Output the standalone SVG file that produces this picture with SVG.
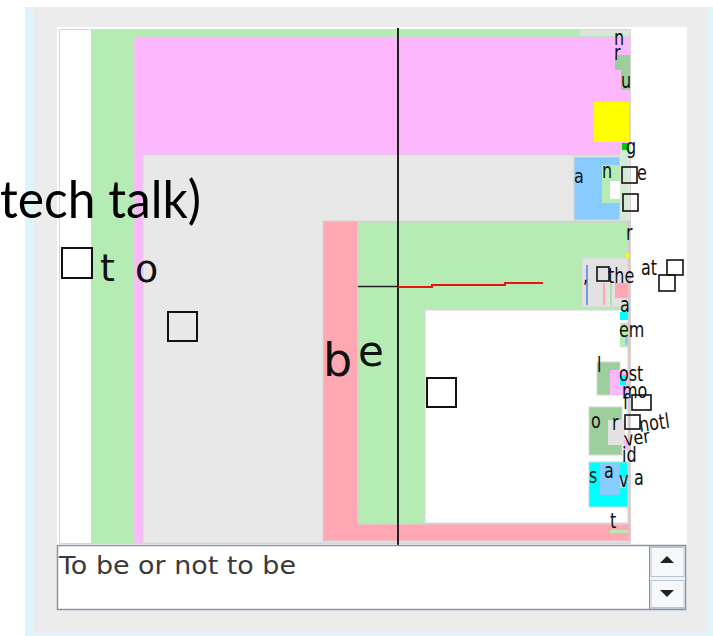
<svg xmlns="http://www.w3.org/2000/svg" width="713" height="636" viewBox="0 0 713 636">
<style>
.bx{stroke:#d6d6d6;stroke-width:1}
.g{fill:#b4ecb4}.pk{fill:#fdb8fd}.gr{fill:#e8e8e8}.rd{fill:#ffa8b4}.lb{fill:#88ccff}.dg{fill:#9ccf9c}.cy{fill:#00ffff}.yl{fill:#ffff00}.wh{fill:#ffffff}
.sq{fill:none;stroke:#111;stroke-width:2}
.sq1{fill:none;stroke:#111;stroke-width:1.6}
.big{font-family:"DejaVu Sans",sans-serif;fill:#111}
.sm{font-family:"DejaVu Sans",sans-serif;fill:#111;font-size:16px}
</style>
<rect x="0" y="0" width="713" height="636" fill="#ffffff"/>
<rect x="25" y="7" width="688" height="629" fill="#ddf5fb"/>
<rect x="34" y="7" width="674" height="626" fill="#ececec"/>
<rect x="57" y="27" width="630" height="518" fill="#ffffff"/>

<g id="root">
<rect x="59.5" y="29.5" width="571" height="514" fill="#ffffff" class="bx"/>
</g>
<g id="node-t">
<rect x="91" y="30" width="539" height="513" class="g"/>
<rect x="580" y="30" width="50" height="6" fill="#d9e6d9"/>
</g>
<g id="node-o">
<rect x="134" y="37" width="496" height="506" class="pk bx"/>
<rect x="615" y="55" width="15" height="15" class="dg"/>
<rect x="621" y="70" width="9" height="20" class="dg"/>
<rect x="594" y="102" width="35" height="40" class="yl"/>
<rect x="622" y="143" width="7" height="9" fill="#00cc00"/>
<rect x="626" y="152" width="3" height="4" class="cy"/>
</g>
<g id="node-space">
<rect x="143" y="155" width="487" height="388" class="gr bx"/>
</g>
<g id="node-a">
<rect x="574" y="157" width="46" height="63" class="lb bx"/>
<rect x="602" y="165" width="18" height="38" class="g"/>
<rect x="610" y="181" width="11" height="18" class="wh"/>
<rect x="620" y="150" width="8" height="72" fill="#d2ebd2"/>
</g>
<g id="node-b">
<rect x="323" y="221" width="307" height="320" class="rd bx"/>
<rect x="610" y="530" width="18" height="3" class="g"/>
</g>
<g id="node-e">
<rect x="358" y="222" width="270" height="302" class="g bx"/>
<rect x="626" y="254" width="3" height="4" class="yl"/>
<rect x="582" y="258" width="46" height="49" fill="#e2e2e2" class="bx"/>
<rect x="586" y="265" width="2" height="40" fill="#7799dd"/>
<rect x="603" y="283" width="2" height="22" fill="#ffaaaa"/>
<rect x="610" y="283" width="2" height="22" fill="#a8e6a8"/>
<rect x="615" y="283" width="13" height="15" class="rd"/>
</g>
<g id="node-space2">
<rect x="425" y="310" width="203" height="213" class="wh bx"/>
<rect x="620" y="312" width="8" height="8" class="cy"/>
<rect x="620" y="323" width="8" height="24" class="g"/>
<rect x="625" y="337" width="3" height="8" class="lb"/>
<rect x="597" y="362" width="23" height="33" class="dg bx"/>
<rect x="610" y="370" width="18" height="25" class="pk"/>
<rect x="620" y="375" width="6" height="10" class="cy"/>
<rect x="589" y="407" width="33" height="48" class="dg bx"/>
<rect x="608" y="420" width="17" height="25" fill="#e2e2e2"/>
<rect x="624" y="440" width="4" height="10" class="pk"/>
<rect x="589" y="462" width="39" height="45" class="cy bx"/>
<rect x="600" y="463" width="20" height="32" class="lb"/>
<rect x="620" y="478" width="6" height="10" fill="#aaddff"/>
</g>

<g id="labels">
<rect x="62" y="248" width="30" height="30" class="sq"/>
<text x="100" y="281" class="big" font-size="38">t</text>
<text x="135" y="282" class="big" font-size="38">o</text>
<rect x="168" y="312" width="29" height="29" class="sq"/>
<text x="323" y="376" class="big" font-size="46">b</text>
<text x="358" y="366" class="big" font-size="42">e</text>
<rect x="427" y="378" width="29" height="29" class="sq"/>

<text transform="translate(614 45) scale(1 1.3)" class="sm" font-size="17">n</text>
<text transform="translate(614 60) scale(1 1.3)" class="sm" font-size="17">r</text>
<text transform="translate(621 88) scale(1 1.3)" class="sm" font-size="17">u</text>
<text transform="translate(626 154) scale(1 1.3)" class="sm" font-size="17">g</text>
<text transform="translate(574 183) scale(1 1.2)" class="sm" font-size="22">a</text>
<text transform="translate(602 178) scale(1 1.3)" class="sm" font-size="17">n</text>
<rect x="622" y="167" width="15" height="16" class="sq1"/>
<text transform="translate(637 180) scale(1 1.3)" class="sm" font-size="17">e</text>
<rect x="623" y="194" width="15" height="17" class="sq1"/>
<text transform="translate(626 240) scale(1 1.3)" class="sm" font-size="16">r</text>
<text transform="translate(583 283) scale(1 1.3)" class="sm" font-size="15">,</text>
<rect x="597" y="267" width="12" height="14" class="sq1"/>
<text transform="translate(608 283) scale(1 1.3)" class="sm" font-size="16">the</text>
<text transform="translate(641 275) scale(1 1.3)" class="sm" font-size="13">at</text>
<rect x="667" y="260" width="16" height="15" class="sq1"/>
<rect x="659" y="275" width="16" height="16" class="sq1"/>
<text transform="translate(620 312) scale(1 1.3)" class="sm" font-size="16">a</text>
<text transform="translate(619 337) scale(1 1.3)" class="sm" font-size="17">em</text>
<text transform="translate(597 372) scale(1 1.3)" class="sm" font-size="16">l</text>
<text transform="translate(619 381) scale(1 1.3)" class="sm" font-size="15">ost</text>
<text transform="translate(622 398) scale(1 1.3)" class="sm" font-size="14">mo</text>
<text transform="translate(623 409) scale(1 1.3)" class="sm" font-size="14">f</text>
<rect x="632" y="395" width="19" height="15" class="sq1"/>
<text transform="translate(591 428) scale(1 1.3)" class="sm" font-size="17">o</text>
<text transform="translate(612 430) scale(1 1.3)" class="sm" font-size="17">r</text>
<rect x="625" y="415" width="15" height="14" class="sq1"/>
<text transform="translate(640 432) rotate(-8) scale(1 1.3)" class="sm" font-size="16">notl</text>
<text transform="translate(625 446) rotate(-8) scale(1 1.2)" class="sm" font-size="15">ver</text>
<text transform="translate(622 462) scale(1 1.3)" class="sm" font-size="16">id</text>
<text transform="translate(589 483) scale(1 1.3)" class="sm" font-size="17">s</text>
<text transform="translate(604 478) scale(1 1.3)" class="sm" font-size="15">a</text>
<text transform="translate(619 487) scale(1 1.3)" class="sm" font-size="10">v</text>
<text transform="translate(634 485) scale(1 1.3)" class="sm" font-size="16">a</text>
<text transform="translate(610 528) scale(1 1.3)" class="sm" font-size="16">t</text>
</g>

<g id="connectors">
<line x1="398" y1="28" x2="398" y2="545" stroke="#222" stroke-width="2"/>
<line x1="358" y1="286.5" x2="398" y2="286.5" stroke="#222" stroke-width="1.5"/>
<polyline points="398,287 432,287 432,285 505,285 505,283 543,283" fill="none" stroke="#ee1111" stroke-width="2"/>
</g>

<g id="textarea">
<rect x="57.5" y="545.5" width="628" height="64" fill="#ffffff" stroke="#8595a5" stroke-width="1.5"/>
<text x="59" y="574" font-family="DejaVu Sans, sans-serif" font-size="25" fill="#3a3a3a" textLength="237" lengthAdjust="spacingAndGlyphs">To be or not to be</text>
<rect x="649.5" y="546" width="36" height="63" fill="#f2f4f6" stroke="#8595a5" stroke-width="1"/>
<rect x="651" y="547.5" width="33" height="29" fill="#f6f8fa" stroke="#b8c4cf" stroke-width="1"/>
<rect x="651" y="580.5" width="33" height="27" fill="#f6f8fa" stroke="#b8c4cf" stroke-width="1"/>
<polygon points="667,556 660,563 674,563" fill="#222"/>
<polygon points="660,590 674,590 667,597" fill="#222"/>
</g>

<text x="0" y="218" font-family="Lato, 'Open Sans', sans-serif" font-size="52" fill="#000" textLength="201" lengthAdjust="spacingAndGlyphs">tech talk)</text>
</svg>
